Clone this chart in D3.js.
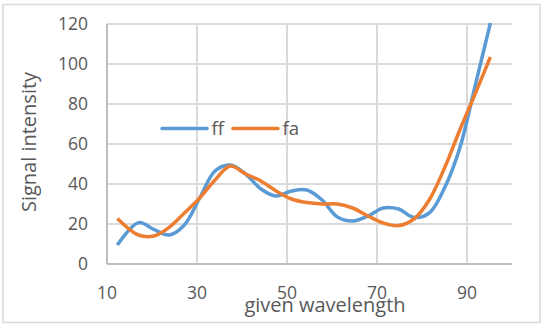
<!DOCTYPE html>
<html><head><meta charset="utf-8">
<script src="https://cdn.jsdelivr.net/npm/d3@7"></script>
<style>body{margin:0;background:#fff}svg{display:block}text{font-family:"Open Sans",sans-serif;fill:#595959}</style>
</head><body><svg id="c" width="547" height="329"></svg>
<script>
const wavelength = [12.3,17.0,20.4,23.8,27.2,30.6,34.0,37.4,40.8,44.2,47.6,51.0,54.4,57.8,61.2,64.6,68.0,71.4,74.8,78.2,81.6,85.0,88.4,91.8,95.2];
const ff = [9.5,20.7,17.3,14.5,19.5,33,46.5,49.5,45,37.5,34,36.5,37,32,23.5,21.5,24,28,27.5,23.3,25.5,38,58,89,120.5];
const fa = [22.8,14.5,14,18.3,25.5,33,42,49,45,41.5,36.5,32.5,30.7,30,30,28,24,20.5,19.2,22.5,32,48,67,85,103.5];
const seriesNames = ["ff","fa"];
const colors = ["#5B9BD5","#ED7D31"];
const xTicks = [10,30,50,70,90];
const yTicks = [0,20,40,60,80,100,120];

const svg = d3.select("#c");
const L=107,R=512,T=24,B=264;
const x = d3.scaleLinear().domain([10,100]).range([L,R]);
const y = d3.scaleLinear().domain([0,120]).range([B,T]);

svg.append("rect").attr("x",3).attr("y",4.5).attr("width",537).attr("height",318)
  .attr("fill","#fff").attr("stroke","#d9d9d9").attr("stroke-width",1.5);

// grid
svg.append("g").selectAll("line").data(yTicks.filter(d=>d>0)).join("line")
  .attr("x1",L).attr("x2",R).attr("y1",d=>y(d)).attr("y2",d=>y(d))
  .attr("stroke","#d9d9d9").attr("stroke-width",2);
svg.append("g").selectAll("line").data(xTicks.filter(d=>d>10)).join("line")
  .attr("x1",d=>x(d)).attr("x2",d=>x(d)).attr("y1",T).attr("y2",B)
  .attr("stroke","#d9d9d9").attr("stroke-width",2);
// axes lines
svg.append("line").attr("x1",L).attr("x2",L).attr("y1",T).attr("y2",B).attr("stroke","#bfbfbf").attr("stroke-width",2);
svg.append("line").attr("x1",L).attr("x2",R).attr("y1",B).attr("y2",B).attr("stroke","#bfbfbf").attr("stroke-width",2);

// tick labels
svg.append("g").selectAll("text").data(yTicks).join("text")
  .attr("x",88).attr("y",d=>y(d)).attr("dy","0.36em").attr("text-anchor","end")
  .attr("font-size",17.5).text(d=>d);
svg.append("g").selectAll("text").data(xTicks).join("text")
  .attr("x",d=>x(d)).attr("y",299).attr("text-anchor","middle")
  .attr("font-size",17.5).text(d=>d);

svg.append("text").attr("x",325).attr("y",311.5).attr("text-anchor","middle").attr("font-size",20).text("given wavelength");
svg.append("text").attr("transform","translate(36,142) rotate(-90)").attr("text-anchor","middle").attr("font-size",20).text("Signal intensity");

svg.append("clipPath").attr("id","clip").append("rect").attr("x",L).attr("y",T-2).attr("width",R-L).attr("height",B-T+2);

const line = d3.line().x(d=>x(d[0])).y(d=>y(d[1])).curve(d3.curveCatmullRom.alpha(0.5));
[ff,fa].forEach((s,i)=>{
  svg.append("path").attr("clip-path","url(#clip)")
    .attr("d",line(wavelength.map((w,j)=>[w,s[j]])))
    .attr("fill","none").attr("stroke",colors[i]).attr("stroke-width",3.5).attr("stroke-linejoin","round");
});

// legend
const legX=[162,233], legY=128.5;
seriesNames.forEach((n,i)=>{
  svg.append("line").attr("x1",legX[i]).attr("x2",legX[i]+45).attr("y1",legY).attr("y2",legY)
    .attr("stroke",colors[i]).attr("stroke-width",3.5).attr("stroke-linecap","round");
  svg.append("text").attr("x",legX[i]+49.5).attr("y",135).attr("font-size",18.5).text(n);
});
</script></body></html>
